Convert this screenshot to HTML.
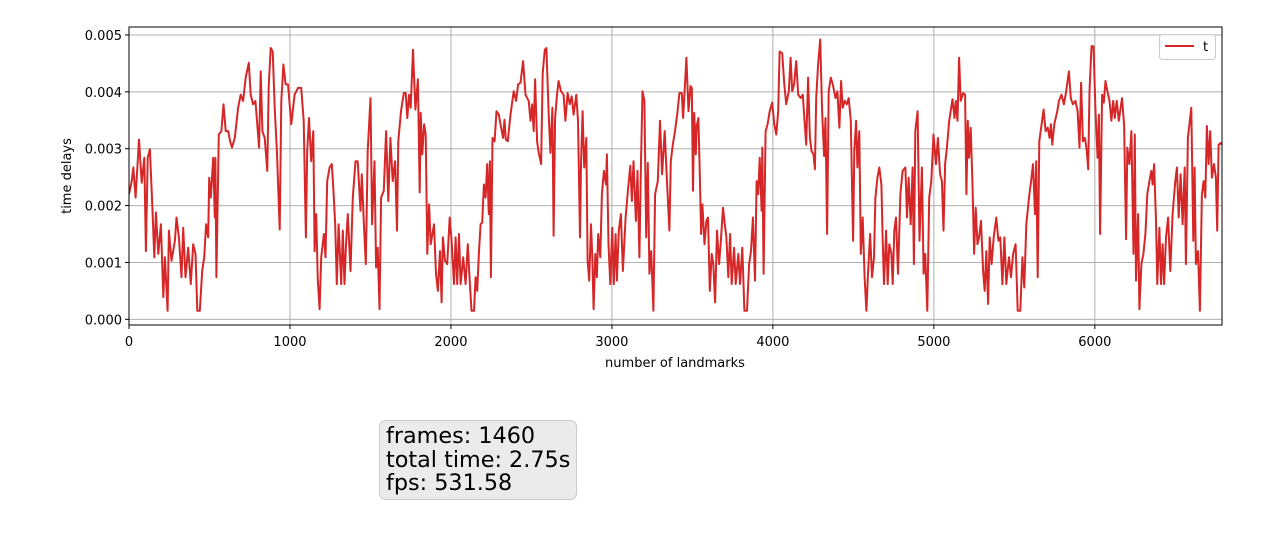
<!DOCTYPE html>
<html><head><meta charset="utf-8"><style>
body{margin:0;background:#fff;}
svg{display:block;font-family:"DejaVu Sans","Liberation Sans",sans-serif;}
</style></head><body>
<svg id="chart" width="1286" height="544" viewBox="0 0 1286 544"></svg>
<script>
// values in units of 1e-3 (time delays)
const landmarks = [0,17,27,41,62,79,95,105,116,130,145,157,167,182,198,213,223,240,248,264,285,295,310,326,337,351,368,384,399,413,424,440,455,467,479,492,498,508,523,533,537,543,558,574,587,601,616,628,640,657,678,694,709,725,744,756,771,785,795,808,818,829,843,859,868,880,893,905,919,936,946,959,973,988,1008,1029,1050,1070,1085,1099,1107,1118,1132,1145,1153,1163,1173,1184,1194,1211,1221,1231,1246,1260,1268,1281,1291,1302,1318,1328,1339,1349,1359,1376,1390,1407,1421,1438,1446,1459,1471,1483,1500,1510,1525,1535,1545,1556,1566,1583,1597,1611,1624,1638,1653,1665,1673,1690,1707,
1719,1729,1740,1750,1764,1779,1795,1806,1812,1822,1833,1843,1853,1864,1874,1895,1907,1919,1932,1942,1950,1963,1977,1992,2004,2019,2029,2039,2050,2060,2076,2091,2105,2118,2128,2143,2153,2163,2174,2184,2194,2205,2215,2225,2235,2242,2248,2258,2271,2283,2297,2308,2324,2333,2341,2353,2370,2390,2405,2417,2432,2448,2463,2483,2494,2504,2514,2523,2535,2545,2560,2570,2583,2593,2607,2618,2630,2638,2647,2659,2669,2684,2700,2711,2725,2738,2750,2762,2779,2789,2802,2808,2818,2828,2841,2849,2859,2870,2878,2886,2897,2907,2915,2928,2938,2950,2963,2969,2979,2990,3002,3012,3023,3031,3043,3056,3068,3085,3099,3114,3124,3134,3149,3159,3171,3180,3190,3202,3213,3223,3233,3244,3258,3268,3285,3299,3312,3328,3341,3357,3366,3378,3392,3407,3419,
3434,3442,3453,3463,3476,3488,3496,3504,3511,3521,3527,3537,3546,3554,3562,3575,3587,3597,3608,3620,3630,3641,3653,3666,3678,3690,3701,3711,3723,3734,3744,3759,3769,3785,3796,3810,3823,3839,3852,3864,3876,3889,3899,3909,3918,3930,3934,3942,3955,3967,3980,3996,4009,4021,4033,4042,4058,4071,4083,4099,4110,4120,4132,4145,4157,4172,4186,4194,4207,4219,4230,4240,4252,4261,4269,4281,4294,4306,4318,4327,4337,4347,4360,4372,4389,4401,4413,4424,4434,4447,4459,4471,4484,4498,4506,4517,4525,4537,4546,4558,4570,4581,4591,4604,4616,4628,4637,4649,4661,4674,4682,4690,4703,4713,4723,4736,4744,4754,4765,4777,4792,4806,4823,4833,4843,4856,4868,4876,4885,4899,4911,4926,4936,4946,4959,4971,4984,4998,5013,5025,5039,5050,5060,5070,5081,5095,5116,5128,
5136,5147,5157,5167,5182,5194,5202,5211,5219,5229,5240,5250,5260,5271,5281,5293,5306,5316,5326,5337,5347,5359,5372,5388,5401,5413,5426,5438,5450,5467,5479,5492,5508,5521,5537,5550,5562,5574,5591,5603,5616,5628,5636,5645,5655,5669,5682,5694,5707,5719,5727,5736,5748,5767,5777,5793,5808,5822,5839,5851,5864,5880,5893,5905,5915,5926,5938,5950,5959,5967,5979,5992,6004,6017,6025,6033,6045,6056,6066,6078,6091,6103,6114,6124,6136,6149,6169,6182,6194,6202,6215,6227,6240,6248,6256,6269,6277,6289,6302,6314,6326,6339,6351,6359,6368,6380,6388,6401,6411,6421,6430,6442,6455,6469,6483,6500,6510,6521,6533,6545,6558,6566,6578,6599,6612,6620,6628,6641,6653,6665,6676,6686,6696,6707,6717,6727,6740,6752,6760,6769,6781,6789];
const delays = [2.2,2.43,2.67,2.14,3.16,2.4,2.84,1.2,2.84,2.99,2.0,1.09,1.88,1.15,1.67,0.39,1.09,0.15,1.56,1.03,1.38,1.79,1.44,0.74,1.61,0.74,1.26,0.62,1.32,1.15,0.15,0.15,0.85,1.09,1.67,1.44,2.49,2.14,2.84,1.79,2.84,0.74,3.25,3.31,3.78,3.31,3.31,3.13,3.02,3.19,3.72,3.95,3.84,4.25,4.51,3.95,3.78,3.84,3.49,3.02,4.36,3.31,3.19,2.61,4.1,4.77,4.71,3.72,2.96,1.58,3.84,4.48,4.13,4.13,3.43,3.95,4.07,4.07,3.49,1.44,2.96,3.54,2.78,3.31,1.2,1.85,0.68,0.18,1.09,1.5,1.09,2.43,2.67,2.73,2.37,1.67,0.62,1.67,0.62,1.56,0.62,1.38,1.85,0.85,2.14,2.78,2.78,1.91,2.55,1.67,0.97,2.96,3.89,1.67,2.78,0.91,1.26,0.18,2.14,2.26,3.31,2.08,3.19,2.43,2.78,1.56,3.13,3.66,3.98,
3.98,3.54,3.95,3.72,4.74,3.69,4.22,2.23,3.63,2.9,3.43,3.25,1.15,2.02,1.32,1.67,0.8,0.5,1.2,0.3,1.44,1.03,0.97,1.79,1.38,0.62,1.44,0.62,1.5,0.62,1.09,0.62,1.32,0.62,0.15,0.15,0.74,0.5,1.2,1.67,1.7,2.37,2.14,2.73,1.85,2.78,0.74,3.19,3.13,3.66,3.6,3.43,3.19,3.51,3.16,3.13,3.6,4.01,3.84,4.13,4.16,4.54,3.95,3.84,3.49,3.78,3.31,4.22,3.13,2.93,2.73,4.33,4.74,4.77,3.6,2.93,3.72,1.47,3.54,3.95,4.19,4.01,3.95,3.49,3.98,3.78,3.92,3.6,3.95,3.49,1.44,2.73,3.66,2.67,3.19,1.03,0.68,1.67,1.09,0.18,1.15,0.74,1.5,1.09,2.2,2.61,2.37,2.9,1.32,0.62,1.61,0.62,1.5,0.68,1.56,1.85,0.85,1.79,2.26,2.7,2.08,2.78,1.73,2.61,1.09,2.67,4.01,3.84,1.44,2.75,0.8,1.2,0.15,2.2,2.43,3.49,2.55,3.31,2.49,1.56,2.78,3.07,3.31,3.63,3.98,
3.98,3.54,4.07,4.6,3.66,4.1,4.07,2.26,3.63,2.9,3.4,3.54,2.55,1.5,2.02,1.32,1.73,1.79,0.5,1.15,0.97,0.3,1.56,0.97,1.44,1.96,1.67,1.44,0.74,1.5,0.62,1.26,0.62,1.15,0.62,1.26,0.15,0.15,0.97,1.2,1.79,0.68,2.43,2.2,2.84,1.91,3.02,0.8,3.31,3.43,3.66,3.81,3.43,3.25,3.66,4.71,4.68,4.13,3.78,4.01,4.6,4.01,4.13,4.54,3.95,3.89,3.95,3.6,3.07,4.25,3.19,2.96,2.9,2.64,3.89,4.48,4.92,3.66,2.87,3.54,1.5,4.01,4.25,4.13,3.89,4.01,3.37,4.19,3.72,3.84,3.78,3.89,3.49,1.38,2.96,3.49,2.67,3.31,1.15,1.79,0.74,0.15,0.8,1.5,0.74,1.09,2.14,2.49,2.67,2.37,1.38,0.62,1.56,0.62,1.32,1.15,0.62,1.56,1.79,0.8,2.2,2.61,2.67,1.79,2.49,1.67,2.67,0.97,3.31,3.66,1.38,2.67,0.8,1.15,0.15,2.14,2.43,3.25,2.73,3.19,2.55,2.43,1.56,2.73,3.02,3.49,3.87,3.54,
3.84,3.49,4.6,3.84,3.98,3.95,2.2,3.49,2.84,3.37,2.37,1.15,1.96,1.32,1.44,1.73,0.85,0.5,1.2,0.27,1.44,0.97,1.44,1.79,1.38,1.44,0.62,1.44,0.62,1.09,0.74,1.15,1.32,0.15,0.15,1.09,0.56,1.67,2.14,2.4,2.73,1.85,2.78,0.74,3.13,3.43,3.69,3.31,3.37,3.19,3.43,3.07,3.43,3.66,3.84,3.95,3.78,4.01,4.36,3.89,3.78,3.84,3.66,3.02,4.16,3.13,3.19,2.96,2.64,4.01,4.8,4.8,3.66,2.84,3.6,1.5,3.95,3.81,4.19,4.01,3.84,3.49,3.84,3.54,3.84,3.49,3.89,3.43,1.41,3.02,2.73,3.31,1.15,3.25,0.68,1.85,0.18,0.97,1.15,1.5,2.2,2.43,2.61,2.37,2.73,1.73,0.62,1.61,0.62,1.32,0.62,1.44,1.79,0.85,1.85,2.43,2.67,1.79,2.55,1.67,2.67,0.97,3.19,3.72,1.38,2.67,0.97,1.2,0.15,2.2,2.43,2.14,3.4,2.73,3.31,2.49,2.73,2.49,1.56,3.07,3.1,3.07];
const xTicks = [0,1000,2000,3000,4000,5000,6000];
const xTickLabels = ["0","1000","2000","3000","4000","5000","6000"];
const yTicks = [0,1,2,3,4,5];
const yTickLabels = ["0.000","0.001","0.002","0.003","0.004","0.005"];

const NS="http://www.w3.org/2000/svg";
const svg=document.getElementById('chart');
const L=129,R=1222,T=27,B=325;
const xMin=0,xMax=6790,yMin=-0.1,yMax=5.14;
function xs(v){return L+(v-xMin)/(xMax-xMin)*(R-L);}
function ys(v){return B-(v-yMin)/(yMax-yMin)*(B-T);}
function mk(tag,attrs){const e=document.createElementNS(NS,tag);for(const k in attrs)e.setAttribute(k,attrs[k]);return e;}

const clip=mk('clipPath',{id:'clip'});clip.appendChild(mk('rect',{x:L,y:T,width:R-L,height:B-T}));svg.appendChild(clip);

xTicks.forEach((t,i)=>{
  const x=xs(t);
  const g=mk('line',{x1:x,x2:x,y1:T,y2:B,stroke:'#b0b0b0','stroke-width':1});
  
  
  svg.appendChild(g);
  const tk=mk('line',{x1:x,x2:x,y1:B,y2:B+4,stroke:'#000','stroke-width':1});
  
  
  svg.appendChild(tk);
  const tx=mk('text',{x:x,y:B+21,'text-anchor':'middle','font-size':13,fill:'#000'});
  tx.textContent=xTickLabels[i];
  
  
  svg.appendChild(tx);
});
yTicks.forEach((t,i)=>{
  const y=ys(t);
  const g=mk('line',{x1:L,x2:R,y1:y,y2:y,stroke:'#b0b0b0','stroke-width':1});
  
  
  svg.appendChild(g);
  const tk=mk('line',{x1:L-4,x2:L,y1:y,y2:y,stroke:'#000','stroke-width':1});
  
  
  svg.appendChild(tk);
  const tx=mk('text',{x:L-7,y:y+5,'text-anchor':'end','font-size':13,fill:'#000'});
  tx.textContent=yTickLabels[i];
  
  
  svg.appendChild(tx);
});

let d='';
landmarks.forEach((v,i)=>{d+=(i?'L':'M')+xs(v).toFixed(1)+','+ys(delays[i]).toFixed(1);});
const line=mk('path',{d:d,fill:'none',stroke:'#d62728','stroke-width':2,'stroke-linejoin':'round','clip-path':'url(#clip)'});


svg.appendChild(line);

const frame=mk('rect',{x:L,y:T,width:R-L,height:B-T,fill:'none',stroke:'#000','stroke-width':1});


svg.appendChild(frame);
</script>
<svg style="position:absolute;left:0;top:0" width="1286" height="544">
  <text x="675" y="367" text-anchor="middle" font-size="13" font-family="DejaVu Sans, Liberation Sans, sans-serif">number of landmarks</text>
  <text x="0" y="0" transform="translate(71,176) rotate(-90)" text-anchor="middle" font-size="13" font-family="DejaVu Sans, Liberation Sans, sans-serif">time delays</text>
  <g>
    <rect x="1159.5" y="34.5" width="56" height="25" rx="3" fill="#fff" fill-opacity="0.8" stroke="#ccc"/>
    <line x1="1165" y1="46" x2="1194" y2="46" stroke="#d62728" stroke-width="2"/>
    <text x="1203" y="51" font-size="13" font-family="DejaVu Sans, Liberation Sans, sans-serif">t</text>
  </g>
  <g>
    <rect x="379.5" y="420.5" width="197" height="79" rx="6" fill="#ebebeb" stroke="#cccccc"/>
    <text x="386" y="443" font-size="22.3" font-family="DejaVu Sans, Liberation Sans, sans-serif">frames: 1460</text>
    <text x="386" y="467" font-size="22.3" font-family="DejaVu Sans, Liberation Sans, sans-serif">total time: 2.75s</text>
    <text x="386" y="490" font-size="22.3" font-family="DejaVu Sans, Liberation Sans, sans-serif">fps: 531.58</text>
  </g>
</svg>
</body></html>
